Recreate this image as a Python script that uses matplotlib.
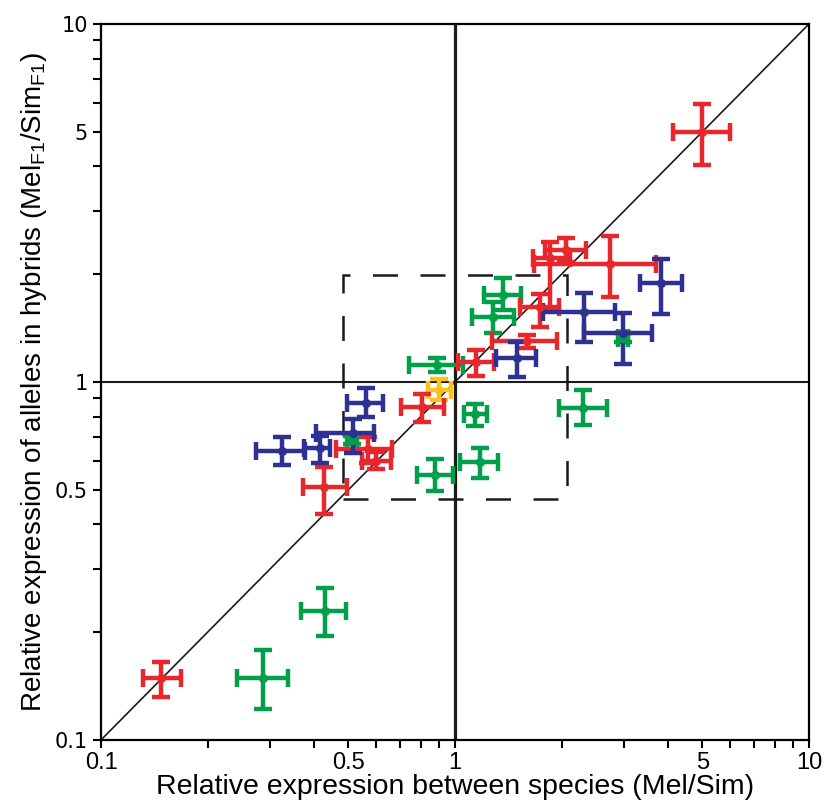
import matplotlib
matplotlib.use("Agg")
import matplotlib.pyplot as plt
from matplotlib.patches import Rectangle
from matplotlib.ticker import FixedLocator, NullFormatter, FixedFormatter

# Mel/Sim ratios: centre and lower/upper error bounds, one list per colour group
red_x = [4.99, 2.06, 1.86, 2.74, 1.74, 1.60, 1.15, 0.807, 0.568, 0.598, 0.427, 0.148]
red_x_lo = [4.13, 1.80, 1.66, 1.67, 1.53, 1.27, 1.02, 0.704, 0.461, 0.546, 0.372, 0.131]
red_x_hi = [5.98, 2.35, 2.11, 3.70, 1.97, 1.94, 1.29, 0.931, 0.664, 0.660, 0.495, 0.168]
red_y = [4.99, 2.34, 2.22, 2.14, 1.62, 1.30, 1.137, 0.852, 0.650, 0.602, 0.509, 0.149]
red_y_lo = [4.04, 2.16, 1.59, 1.73, 1.42, 1.245, 1.039, 0.773, 0.594, 0.572, 0.428, 0.132]
red_y_hi = [5.98, 2.52, 2.46, 2.56, 1.76, 1.353, 1.228, 0.926, 0.702, 0.638, 0.579, 0.165]

blue_x = [3.82, 2.31, 2.98, 1.50, 0.561, 0.515, 0.415, 0.325]
blue_x_lo = [3.33, 1.77, 2.31, 1.31, 0.495, 0.405, 0.375, 0.274]
blue_x_hi = [4.38, 2.83, 3.60, 1.69, 0.626, 0.590, 0.443, 0.377]
blue_y = [1.89, 1.57, 1.37, 1.17, 0.874, 0.720, 0.654, 0.642]
blue_y_lo = [1.55, 1.29, 1.12, 1.03, 0.799, 0.633, 0.594, 0.586]
blue_y_hi = [2.21, 1.77, 1.56, 1.29, 0.962, 0.788, 0.707, 0.702]

green_x = [1.37, 1.28, 0.890, 1.14, 2.30, 1.18, 0.878, 0.429, 0.287, 2.98, 0.512]
green_x_lo = [1.21, 1.12, 0.742, 1.06, 1.97, 1.03, 0.781, 0.367, 0.242, 2.88, 0.495]
green_x_hi = [1.54, 1.47, 1.053, 1.23, 2.69, 1.32, 0.987, 0.492, 0.338, 3.08, 0.530]
green_y = [1.75, 1.52, 1.116, 0.814, 0.846, 0.598, 0.550, 0.229, 0.149, 1.33, 0.689]
green_y_lo = [1.59, 1.37, 1.066, 0.754, 0.758, 0.539, 0.496, 0.195, 0.122, 1.29, 0.670]
green_y_hi = [1.95, 1.67, 1.167, 0.868, 0.950, 0.654, 0.609, 0.266, 0.178, 1.37, 0.708]

yellow_x = [0.901]
yellow_x_lo = [0.839]
yellow_x_hi = [0.974]
yellow_y = [0.950]
yellow_y_lo = [0.891]
yellow_y_hi = [1.02]

# dashed two-fold box round the 1:1 point
box_x = (0.483, 2.07)
box_y = (0.471, 1.99)

major_ticks = [0.1, 0.5, 1, 5, 10]
major_labels = ["0.1", "0.5", "1", "5", "10"]
minor_ticks = [0.2, 0.3, 0.4, 0.6, 0.7, 0.8, 0.9, 2, 3, 4, 6, 7, 8, 9]

groups = [
    ("#00A04B", green_x, green_x_lo, green_x_hi, green_y, green_y_lo, green_y_hi),
    ("#FBC21C", yellow_x, yellow_x_lo, yellow_x_hi, yellow_y, yellow_y_lo, yellow_y_hi),
    ("#E8262B", red_x, red_x_lo, red_x_hi, red_y, red_y_lo, red_y_hi),
    ("#2E3192", blue_x, blue_x_lo, blue_x_hi, blue_y, blue_y_lo, blue_y_hi),
]

fig = plt.figure(figsize=(8.28, 8.11), dpi=100)
ax = fig.add_axes([0.122, 0.0876, 0.855, 0.8828])
ax.set_xscale("log")
ax.set_yscale("log")
ax.set_xlim(0.1, 10)
ax.set_ylim(0.1, 10)

# reference lines
ax.plot([0.1, 10], [0.1, 10], color="#1a1a1a", lw=1.2, zorder=1)
ax.axvline(1, color="#1a1a1a", lw=2.3, zorder=1)
ax.axhline(1, color="#1a1a1a", lw=1.5, zorder=1)
ax.add_patch(Rectangle((box_x[0], box_y[0]), box_x[1] - box_x[0], box_y[1] - box_y[0],
                       fill=False, ec="#1a1a1a", lw=1.8, ls=(0, (10, 9)), zorder=1))

for color, x, xlo, xhi, y, ylo, yhi in groups:
    xerr = [[a - b for a, b in zip(x, xlo)], [b - a for a, b in zip(x, xhi)]]
    yerr = [[a - b for a, b in zip(y, ylo)], [b - a for a, b in zip(y, yhi)]]
    ax.errorbar(x, y, xerr=xerr, yerr=yerr, fmt="o", color=color, ms=5.5,
                elinewidth=3.2, capsize=6.5, capthick=3.2, zorder=3)

for side in ["left", "bottom", "top", "right"]:
    ax.spines[side].set_linewidth(1.6)

ax.xaxis.set_major_locator(FixedLocator(major_ticks))
ax.xaxis.set_major_formatter(FixedFormatter(major_labels))
ax.xaxis.set_minor_locator(FixedLocator(minor_ticks))
ax.xaxis.set_minor_formatter(NullFormatter())
ax.yaxis.set_major_locator(FixedLocator(major_ticks))
ax.yaxis.set_major_formatter(FixedFormatter(major_labels))
ax.yaxis.set_minor_locator(FixedLocator(minor_ticks))
ax.yaxis.set_minor_formatter(NullFormatter())

ax.tick_params(which="both", direction="out", length=5.5, width=1.5, top=False, right=False)
ax.tick_params(axis="x", which="both", labelsize=17, pad=3, labelfontfamily="Liberation Sans")
ax.tick_params(axis="y", which="both", labelsize=15, pad=4, labelfontfamily="DejaVu Sans")

ax.set_xlabel("Relative expression between species (Mel/Sim)", fontsize=20.5,
              family="Liberation Sans", labelpad=0)
ax.set_ylabel(r"Relative expression of alleles in hybrids (Mel$\mathregular{_{F1}}$/Sim$\mathregular{_{F1}}$)",
              fontsize=20, family="Liberation Sans", labelpad=4)

fig.savefig("out.png", dpi=100)
